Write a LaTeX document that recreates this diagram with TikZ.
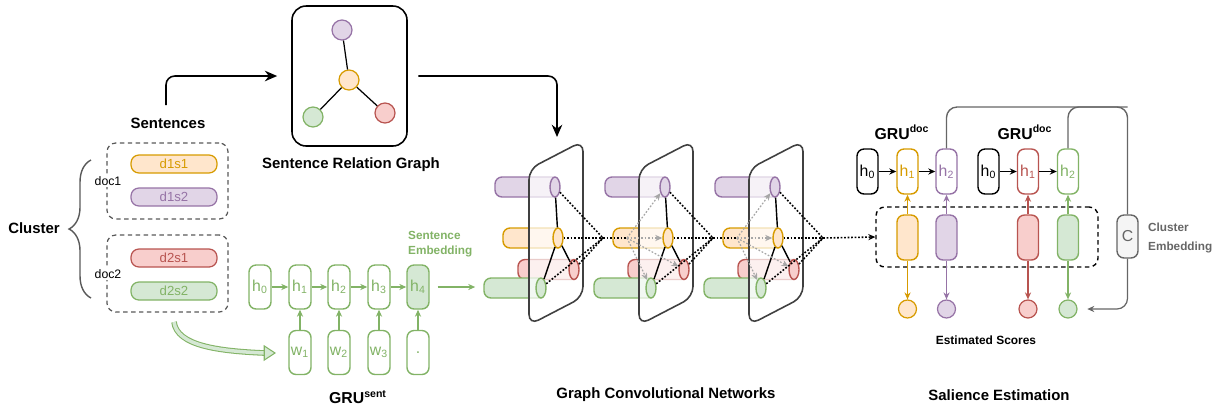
\documentclass[tikz,border=0pt]{standalone}
\usepackage{fontspec}
\setmainfont{Liberation Sans}
\usepackage{tikz}
\usetikzlibrary{arrows.meta,shapes.geometric,decorations.pathreplacing}

\definecolor{ofill}{HTML}{FFE6CC}\definecolor{oline}{HTML}{D79B00}
\definecolor{pfill}{HTML}{E1D5E7}\definecolor{pline}{HTML}{9673A6}
\definecolor{rfill}{HTML}{F8CECC}\definecolor{rline}{HTML}{B85450}
\definecolor{gfill}{HTML}{D5E8D4}\definecolor{gline}{HTML}{82B366}
\definecolor{cfill}{HTML}{F5F5F5}\definecolor{cline}{HTML}{666666}

\tikzset{
  heading/.style={font=\bfseries\fontsize{8.5}{10}\selectfont},
  minor/.style={font=\bfseries\fontsize{6.7}{#1}\selectfont},
  sent/.style={draw=#1line, fill=#1fill, text=#1line, rounded corners=4.5pt, line width=0.7pt,
    minimum width=1.72cm, minimum height=0.36cm, inner sep=0pt, font=\fontsize{7.5}{9}\selectfont},
  docbox/.style={draw=black!65, dash pattern=on 2.5pt off 2pt, rounded corners=5pt, line width=0.7pt,
    minimum width=2.42cm, minimum height=#1},
  vert/.style={circle, draw=#1line, fill=#1fill, minimum size=0.4cm, inner sep=0pt, line width=0.7pt},
  gcell/.style={draw=gline, text=gline, fill=#1, rounded corners=4pt, line width=0.8pt,
    minimum width=0.44cm, minimum height=0.88cm, inner sep=0pt, font=\fontsize{9}{10}\selectfont},
  dcell/.style={draw=#1, text=#1, fill=white, rounded corners=4pt, line width=0.8pt,
    minimum width=0.42cm, minimum height=0.9cm, inner sep=0pt, font=\fontsize{9}{10}\selectfont},
  ecell/.style={draw=#1line, fill=#1fill, rounded corners=4pt, line width=0.8pt,
    minimum width=0.42cm, minimum height=0.9cm, inner sep=0pt},
  lid/.style={ellipse, draw=#1line, fill=#1fill, minimum width=0.2cm, minimum height=0.4cm,
    inner sep=0pt, line width=0.8pt},
  score/.style={circle, draw=#1line, fill=#1fill, minimum size=0.36cm, inner sep=0pt, line width=0.7pt},
  arr/.style={-{Stealth[length=4pt,width=3.5pt]}, line width=0.7pt},
  bigarr/.style={-{Stealth[length=7pt,width=6pt]}, line width=0.9pt},
  agg/.style={dash pattern=on 1pt off 1pt, line width=0.9pt},
}

\newcommand{\cylbody}[4]{%
  \draw[draw=#1line, fill=#1fill, line width=0.8pt, rounded corners=4pt]
    (#3,#4-10) -- (#2,#4-10) -- (#2,#4+10) -- (#3,#4+10);}

\begin{document}
\begin{tikzpicture}[x=0.02cm,y=-0.02cm]
\useasboundingbox (0,0) rectangle (1217,410);

% cluster and its sentences
\node[heading] (clu) at (34,228) {Cluster};
\draw[black!65, line width=0.8pt, decorate, decoration={brace, amplitude=12.5pt}] (91,298) -- (91,160);
\node[heading] (sents) at (168,123) {Sentences};
\node[docbox=1.52cm] (doc1) at (167.5,181) {};
\node[docbox=1.54cm] (doc2) at (167.5,273.5) {};
\node[fill=white, inner sep=1pt, font=\fontsize{7}{8}\selectfont] (doc1l) at (108,181) {doc1};
\node[fill=white, inner sep=1pt, font=\fontsize{7}{8}\selectfont] (doc2l) at (108,274) {doc2};
\node[sent=o] (d1s1) at (174,164) {d1s1};
\node[sent=p] (d1s2) at (174,197) {d1s2};
\node[sent=r] (d2s1) at (174,258) {d2s1};
\node[sent=g] (d2s2) at (174,291) {d2s2};

% relation graph
\coordinate (sup) at (166,105);
\node[draw, line width=0.9pt, rounded corners=8pt, minimum width=2.3cm, minimum height=2.8cm] (srg) at (349.5,76) {};
\node[vert=p] (vp) at (342,30) {};
\node[vert=o] (vo) at (349,80) {};
\node[vert=g] (vg) at (313,117) {};
\node[vert=r] (vr) at (385,113) {};
\draw[line width=0.7pt] (vo) -- (vp) (vo) -- (vg) (vo) -- (vr);
\node[heading] (srgl) at (351,165) {Sentence Relation Graph};
\draw[bigarr, rounded corners=5pt, shorten >=8pt] (sup) |- (srg.west);
\coordinate (gtop) at (557,137);
\draw[bigarr, rounded corners=5pt, shorten <=6pt] (srg.east) -| (gtop);

% sentence encoder
\foreach \i/\x in {0/260,1/300,2/339,3/379}
  \node[gcell=white] (hs\i) at (\x,287) {h\textsubscript{\i}};
\node[gcell=gfill] (hs4) at (418,287) {h\textsubscript{4}};
\foreach \i/\x in {1/300,2/339,3/379}
  \node[gcell=white] (ws\i) at (\x,352.5) {w\textsubscript{\i}};
\node[gcell=white] (ws4) at (418,352.5) {.};
\foreach \i/\j in {0/1,1/2,2/3,3/4}
  \draw[arr, gline] (hs\i) -- (hs\j);
\foreach \i in {1,...,4}
  \draw[arr, gline] (ws\i) -- (hs\i);
\node[minor=8.5pt, text=gline, align=left, anchor=west] (sel) at (402,244) {Sentence\\Embedding};
\node[font=\bfseries\fontsize{9}{10}\selectfont] (grus) at (358,397) {GRU\textsuperscript{sent}};
\coordinate (ds) at (174,322);
\coordinate (de0) at (264,353);
\coordinate (de) at (276,353);
\draw[gline, double=gfill, double distance=2pt, line width=0.6pt] (ds) .. controls +(3,24) and +(-45,-2) .. (de0);
\draw[gline, line width=0.6pt, -{Triangle[length=7pt, width=9pt, fill=gfill]}] (de0) -- (de);

% graph convolutions
\coordinate (gin) at (484,288);
\draw[arr, gline, shorten <=4.5pt, shorten >=5pt] (hs4.east) -- (hs4.east -| gin);
\foreach \k in {0,1,2} {
  \pgfmathsetmacro{\dx}{110*\k}
  \cylbody{p}{495+\dx}{555+\dx}{187}
  \cylbody{o}{503+\dx}{558+\dx}{238}
  \cylbody{r}{518+\dx}{574+\dx}{269.5}
  \cylbody{g}{484+\dx}{541+\dx}{288}
  \draw[black!75, fill=white, fill opacity=0.7, line width=0.9pt, rounded corners=6pt]
    (529+\dx,169) -- (583+\dx,141) -- (583+\dx,297) -- (529+\dx,325) -- cycle;
  \node[lid=p] (cp\k) at (555+\dx,187) {};
  \node[lid=o] (co\k) at (558+\dx,238) {};
  \node[lid=r] (cr\k) at (574+\dx,269.5) {};
  \node[lid=g] (cg\k) at (541+\dx,288) {};
  \draw[line width=0.8pt] (cp\k) -- (co\k) -- (cg\k) (co\k) -- (cr\k);
  \coordinate (m\k) at (603+\dx,238);
}
\coordinate (d1) at (627,238);
\coordinate (d2) at (737,238);

% salience estimation
\node[draw, line width=0.8pt, dash pattern=on 2.5pt off 2pt, rounded corners=5pt,
  minimum width=4.44cm, minimum height=1.2cm] (pool) at (987,237) {};
\foreach \k in {0,1,2}
  \foreach \nm in {cp,co,cr,cg}
    \draw[agg] (\nm\k) -- (m\k);
\foreach \k in {1,2}
  \foreach \nm in {cp,co,cr,cg}
    \draw[agg, arr, black!35] (d\k) -- (\nm\k);
\draw[agg] (m0) -- (d1);
\draw[agg] (m1) -- (d2);
\draw[agg, -{Stealth[length=4pt,width=3.5pt]}] (m2) -- (pool.west);

\node[dcell=black] (ha0) at (867.5,171.5) {h\textsubscript{0}};
\node[dcell=oline] (ha1) at (907.5,171.5) {h\textsubscript{1}};
\node[dcell=pline] (ha2) at (946.5,171.5) {h\textsubscript{2}};
\node[dcell=black] (hb0) at (988.5,171.5) {h\textsubscript{0}};
\node[dcell=rline] (hb1) at (1028,171.5) {h\textsubscript{1}};
\node[dcell=gline] (hb2) at (1068,171.5) {h\textsubscript{2}};
\node[font=\bfseries\fontsize{9}{10}\selectfont] (grua) at (902,132) {GRU\textsuperscript{doc}};
\node[font=\bfseries\fontsize{9}{10}\selectfont] (grub) at (1025,132) {GRU\textsuperscript{doc}};
\node[ecell=o] (ea1) at (907.5,237.5) {};
\node[ecell=p] (ea2) at (946.5,237.5) {};
\node[ecell=r] (eb1) at (1028,237.5) {};
\node[ecell=g] (eb2) at (1068,237.5) {};
\node[score=o] (sa1) at (907.5,309) {};
\node[score=p] (sa2) at (946.5,309) {};
\node[score=r] (sb1) at (1028,309) {};
\node[score=g] (sb2) at (1068,309) {};
\draw[arr] (ha0) -- (ha1);
\draw[arr] (ha1) -- (ha2);
\draw[arr] (hb0) -- (hb1);
\draw[arr] (hb1) -- (hb2);
\foreach \e/\c in {a1/o,a2/p,b1/r,b2/g} {
  \draw[arr, \c line] (e\e) -- (h\e);
  \draw[arr, \c line] (e\e) -- (s\e);
}
\node[draw=cline, fill=cfill, text=cline, rounded corners=4pt, line width=0.8pt, minimum width=0.42cm,
  minimum height=0.86cm, inner sep=0pt, font=\fontsize{9}{10}\selectfont] (cemb) at (1127.5,236.5) {C};
\node[minor=10.8pt, text=cline, align=left, anchor=west] (cel) at (1142,237.5) {Cluster\\Embedding};
\coordinate (fb) at (1127.5,107);
\draw[cline, line width=0.8pt, rounded corners=6pt] (ha2.north) |- (fb) -- (cemb.north);
\draw[cline, line width=0.8pt, rounded corners=6pt] (hb2.north) |- (fb);
\draw[arr, cline, rounded corners=6pt, shorten >=5.5pt] (cemb.south) |- (sb2.east);
\node[font=\bfseries\fontsize{6.8}{8}\selectfont] (estl) at (986,340) {Estimated Scores};

% panel titles
\node[heading] (gcnl) at (666,395) {Graph Convolutional Networks};
\node[heading] (sall) at (999,395) {Salience Estimation};
\end{tikzpicture}
\end{document}
